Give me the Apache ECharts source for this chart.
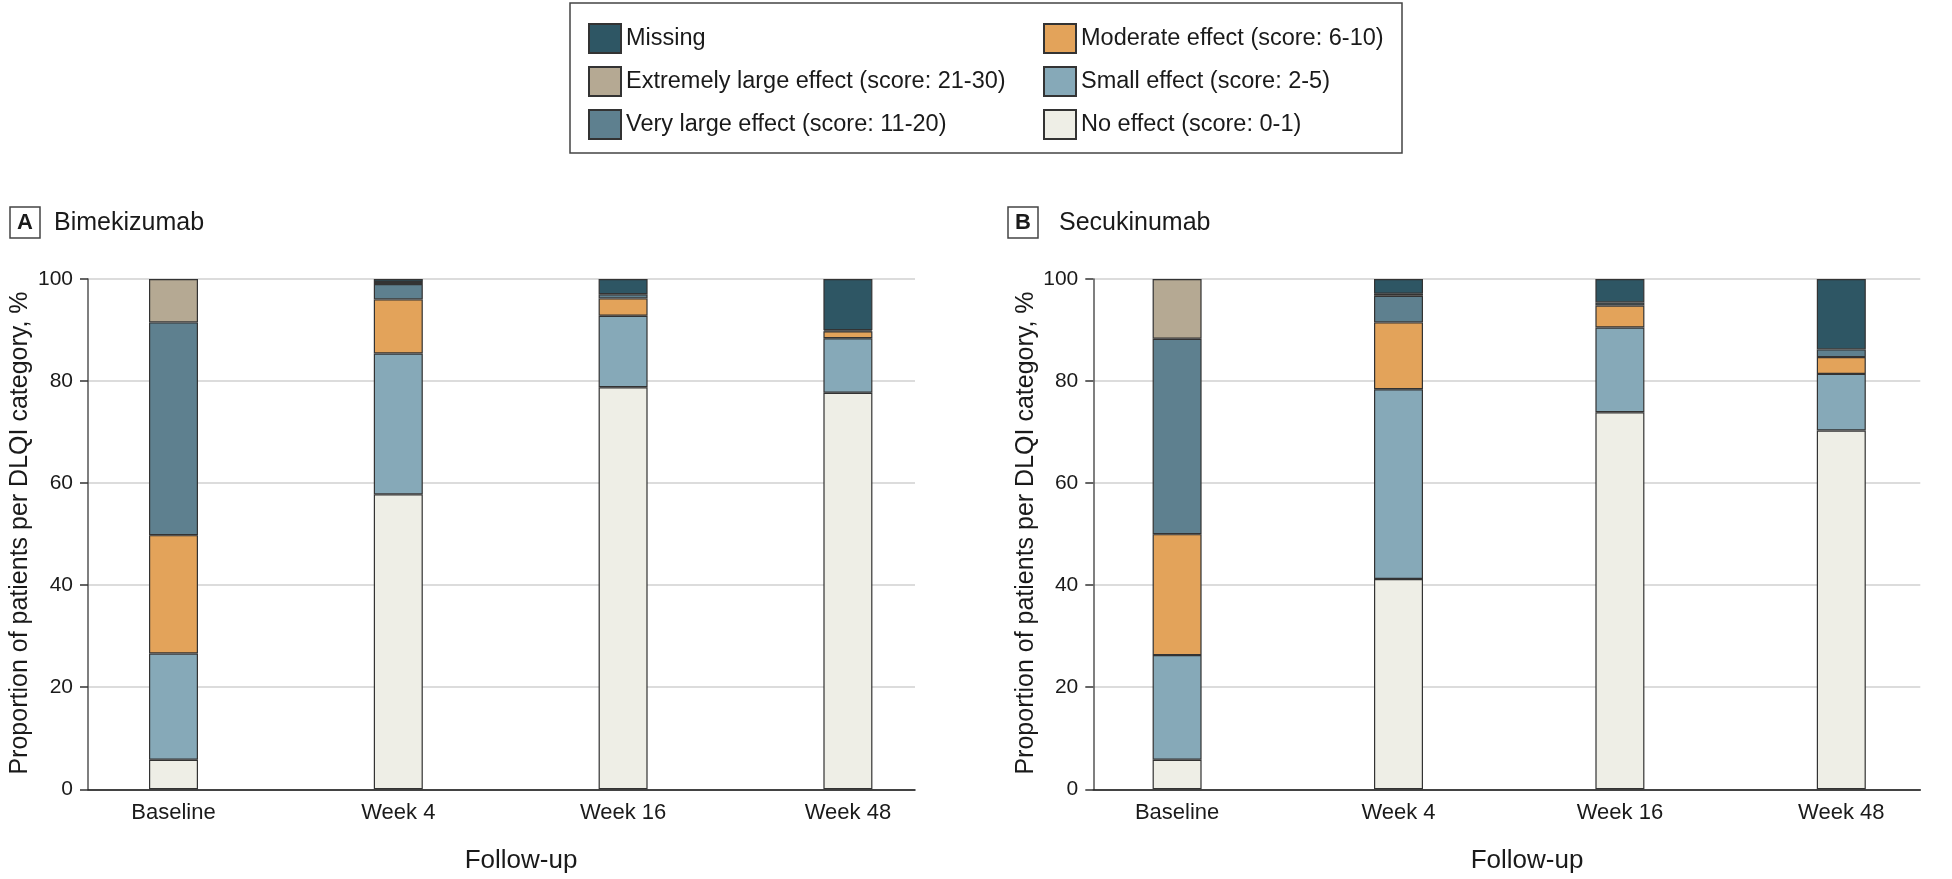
<!DOCTYPE html>
<html><head><meta charset="utf-8">
<script src="https://cdn.jsdelivr.net/npm/echarts@6/dist/echarts.min.js"></script>
<style>html,body{margin:0;padding:0;background:#fff}#c{width:1952px;height:879px}</style>
</head><body><div id="c"></div>
<script>
const categories = ['Baseline', 'Week 4', 'Week 16', 'Week 48'];
const seriesNames = ['No effect (score: 0-1)', 'Small effect (score: 2-5)', 'Moderate effect (score: 6-10)',
  'Very large effect (score: 11-20)', 'Extremely large effect (score: 21-30)', 'Missing'];
// Panel A: Bimekizumab (stack order bottom → top)
const noEffectA  = [5.8, 57.8, 78.8, 77.7];
const smallA     = [20.8, 27.6, 14.0, 10.7];
const moderateA  = [23.2, 10.6, 3.4, 1.35];
const veryLargeA = [41.7, 3.0, 0.8, 0.2];
const extremeA   = [8.5, 0.4, 0, 0];
const missingA   = [0, 0.6, 3.0, 10.05];
// Panel B: Secukinumab
const noEffectB  = [5.8, 41.2, 73.9, 70.3];
const smallB     = [20.5, 37.2, 16.6, 11.1];
const moderateB  = [23.7, 13.1, 4.3, 3.3];
const veryLargeB = [38.3, 5.2, 0.6, 1.5];
const extremeB   = [11.7, 0.4, 0, 0];
const missingB   = [0, 2.9, 4.6, 13.8];
const yTicks = [0, 20, 40, 60, 80, 100];

const colors = ['#EEEEE6', '#86A9B8', '#E3A35A', '#5E808F', '#B5A993', '#2E5664'];
const FONT = 'Liberation Sans, Arial, sans-serif';
const TXT = '#1a1a1a';

const panels = [
  {data: [noEffectA, smallA, moderateA, veryLargeA, extremeA, missingA], axisLeft: 88, barLeft: 61.1},
  {data: [noEffectB, smallB, moderateB, veryLargeB, extremeB, missingB], axisLeft: 1093.3, barLeft: 1066.4}
];
const TOP = 279, HEIGHT = 510.3, AXW = 827, BARW = 899.2;

const grid = [], xAxis = [], yAxis = [], series = [];
panels.forEach((p, pi) => {
  grid.push({left: p.axisLeft, top: TOP, width: AXW, height: HEIGHT});
  grid.push({left: p.barLeft, top: TOP, width: BARW, height: HEIGHT});
  xAxis.push({type: 'value', gridIndex: 2*pi, min: 0, max: 1, axisLine: {show: true, lineStyle: {color: '#111', width: 1.5}},
    axisTick: {show: false}, axisLabel: {show: false}, splitLine: {show: false}});
  xAxis.push({type: 'category', gridIndex: 2*pi+1, data: categories, axisLine: {show: false}, axisTick: {show: false},
    axisLabel: {fontSize: 22, color: TXT, fontFamily: FONT, margin: 13}});
  yAxis.push({type: 'value', gridIndex: 2*pi, min: yTicks[0], max: yTicks[yTicks.length-1], interval: 20,
    axisLine: {show: true, lineStyle: {color: '#555', width: 1.5}},
    axisTick: {show: true, length: 8, lineStyle: {color: '#333', width: 1.5}},
    axisLabel: {fontSize: 21, color: TXT, fontFamily: FONT, margin: 15},
    splitLine: {show: true, lineStyle: {color: '#dcdcdc', width: 2}}});
  yAxis.push({type: 'value', gridIndex: 2*pi+1, min: 0, max: 100, show: false, splitLine: {show: false}});
  p.data.forEach((arr, si) => {
    series.push({
      type: 'bar', name: seriesNames[si], stack: 'p' + pi, xAxisIndex: 2*pi+1, yAxisIndex: 2*pi+1,
      barWidth: 49, data: arr.map(v => v === 0 ? null : v),
      itemStyle: {color: colors[si], borderColor: '#333', borderWidth: 1.2},
      emphasis: {disabled: true}
    });
  });
});

const legendCommon = {orient: 'vertical', top: 23, padding: 0, itemWidth: 32, itemHeight: 29, itemGap: 12, icon: 'rect',
  textStyle: {fontSize: 23.5, color: TXT, fontFamily: FONT}, selectedMode: false};

const option = {
  backgroundColor: '#fff',
  animation: false,
  grid, xAxis, yAxis, series,
  legend: [
    Object.assign({left: 588, data: [seriesNames[5], seriesNames[4], seriesNames[3]]}, legendCommon),
    Object.assign({left: 1043, data: [seriesNames[2], seriesNames[1], seriesNames[0]]}, legendCommon)
  ],
  graphic: [
    {type: 'rect', shape: {x: 570, y: 3, width: 832, height: 150}, style: {fill: 'none', stroke: '#444', lineWidth: 1.5}},
    {type: 'rect', shape: {x: 10, y: 207, width: 30, height: 31}, style: {fill: '#fff', stroke: '#444', lineWidth: 1.5}},
    {type: 'text', x: 25, y: 223, style: {text: 'A', fontSize: 22, fontWeight: 'bold', fill: TXT, fontFamily: FONT, align: 'center', verticalAlign: 'middle'}},
    {type: 'text', x: 54, y: 223, style: {text: 'Bimekizumab', fontSize: 25, fill: TXT, fontFamily: FONT, align: 'left', verticalAlign: 'middle'}},
    {type: 'rect', shape: {x: 1008, y: 207, width: 30, height: 31}, style: {fill: '#fff', stroke: '#444', lineWidth: 1.5}},
    {type: 'text', x: 1023, y: 223, style: {text: 'B', fontSize: 22, fontWeight: 'bold', fill: TXT, fontFamily: FONT, align: 'center', verticalAlign: 'middle'}},
    {type: 'text', x: 1059, y: 223, style: {text: 'Secukinumab', fontSize: 25, fill: TXT, fontFamily: FONT, align: 'left', verticalAlign: 'middle'}},
    {type: 'text', x: 521, y: 861, style: {text: 'Follow-up', fontSize: 26, fill: TXT, fontFamily: FONT, align: 'center', verticalAlign: 'middle'}},
    {type: 'text', x: 1527, y: 861, style: {text: 'Follow-up', fontSize: 26, fill: TXT, fontFamily: FONT, align: 'center', verticalAlign: 'middle'}},
    {type: 'text', x: 20, y: 533, rotation: Math.PI/2, style: {text: 'Proportion of patients per DLQI category, %', fontSize: 25, fill: TXT, fontFamily: FONT, align: 'center', verticalAlign: 'middle'}},
    {type: 'text', x: 1026, y: 533, rotation: Math.PI/2, style: {text: 'Proportion of patients per DLQI category, %', fontSize: 25, fill: TXT, fontFamily: FONT, align: 'center', verticalAlign: 'middle'}}
  ]
};
const chart = echarts.init(document.getElementById('c'));
chart.setOption(option);
</script></body></html>
